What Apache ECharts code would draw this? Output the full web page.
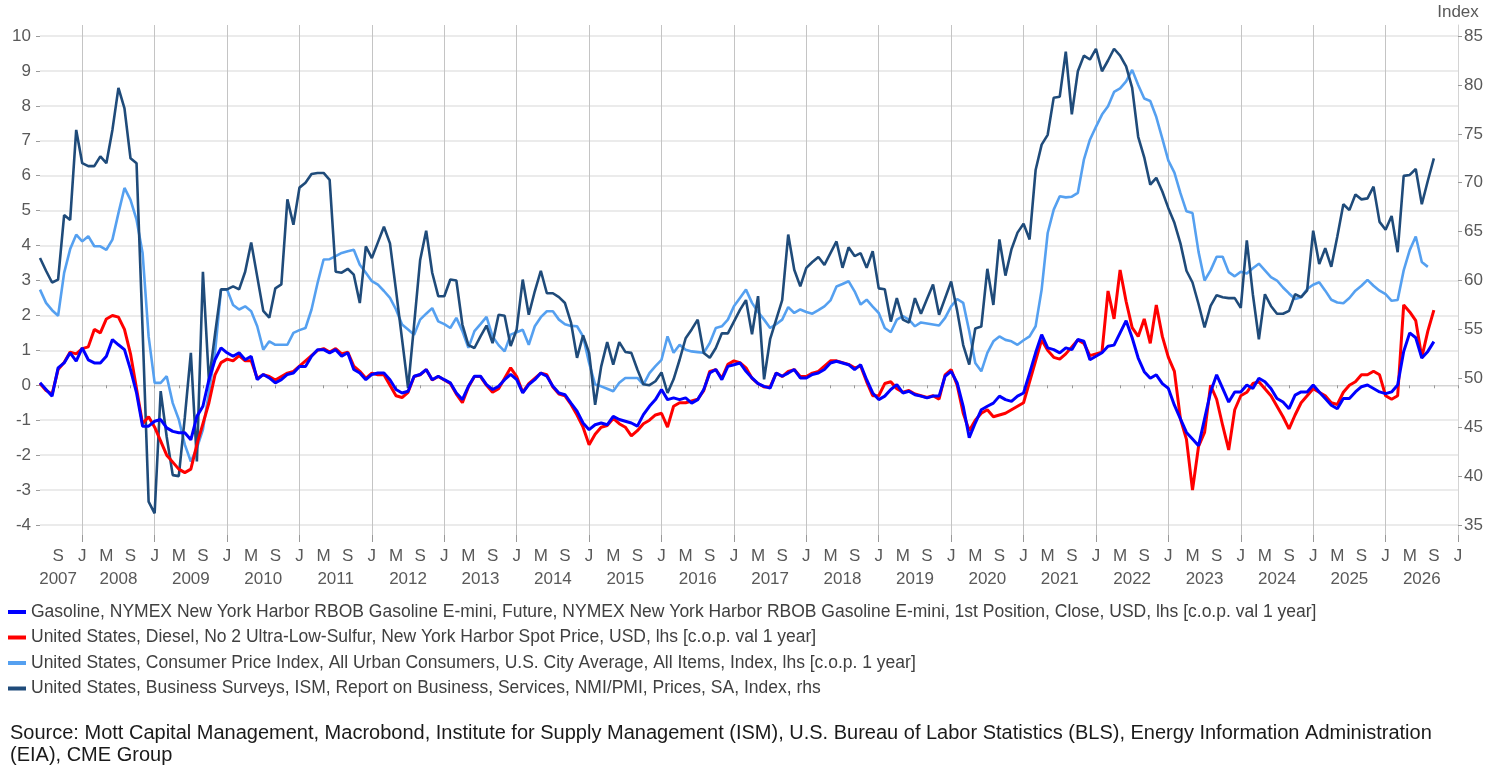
<!DOCTYPE html>
<html>
<head>
<meta charset="utf-8">
<script src="https://cdn.jsdelivr.net/npm/echarts@6/dist/echarts.min.js"></script>
<style>
  html, body { margin: 0; padding: 0; background: #fff; }
  #main { width: 1499px; height: 770px; }
</style>
</head>
<body>
<div id="main"></div>
<script>
// monthly categories, Jun 2007 .. Jan 2027
var firstMonth = [2007, 6];
var lastMonth = [2027, 1];
var months = [];
for (var y = firstMonth[0], m = firstMonth[1]; y < lastMonth[0] || (y == lastMonth[0] && m <= lastMonth[1]); ) {
    months.push(y + '-' + (m < 10 ? '0' + m : m));
    m++;
    if (m > 12) { m = 1; y++; }
}

var monthLetters = {1: 'J', 5: 'M', 9: 'S'};
var leftTicks = [-4, -3, -2, -1, 0, 1, 2, 3, 4, 5, 6, 7, 8, 9, 10];
var rightTicks = [35, 40, 45, 50, 55, 60, 65, 70, 75, 80, 85];

var nameGasoline = 'Gasoline, NYMEX New York Harbor RBOB Gasoline E-mini, Future, NYMEX New York Harbor RBOB Gasoline E-mini, 1st Position, Close, USD, lhs [c.o.p. val 1 year]';
var nameDiesel = 'United States, Diesel, No 2 Ultra-Low-Sulfur, New York Harbor Spot Price, USD, lhs [c.o.p. val 1 year]';
var nameCpi = 'United States, Consumer Price Index, All Urban Consumers, U.S. City Average, All Items, Index, lhs [c.o.p. 1 year]';
var nameIsm = 'United States, Business Surveys, ISM, Report on Business, Services, NMI/PMI, Prices, SA, Index, rhs';

// values from Jun 2007, one per month
var gasoline = [
    0.07, -0.12, -0.31, 0.50, 0.64, 0.93, 0.69, 1.07, 0.73, 0.64,
    0.64, 0.83, 1.31, 1.16, 1.02, 0.45, -0.22, -1.17, -1.17, -1.03,
    -0.98, -1.22, -1.32, -1.36, -1.36, -1.56, -0.89, -0.60, 0.16, 0.73,
    1.07, 0.93, 0.83, 0.93, 0.73, 0.83, 0.16, 0.31, 0.21, 0.07,
    0.16, 0.31, 0.35, 0.54, 0.54, 0.83, 1.02, 1.02, 0.93, 1.02,
    0.83, 0.93, 0.45, 0.35, 0.16, 0.31, 0.35, 0.35, 0.16, -0.12,
    -0.22, -0.17, 0.26, 0.31, 0.45, 0.16, 0.26, 0.16, 0.07, -0.22,
    -0.41, -0.03, 0.26, 0.26, 0.02, -0.12, -0.03, 0.16, 0.31, 0.16,
    -0.22, 0.02, 0.16, 0.35, 0.26, -0.03, -0.22, -0.27, -0.51, -0.74,
    -1.08, -1.27, -1.13, -1.08, -1.13, -0.89, -0.98, -1.03, -1.08, -1.17,
    -0.84, -0.60, -0.41, -0.12, -0.41, -0.36, -0.41, -0.36, -0.51, -0.41,
    -0.12, 0.35, 0.45, 0.16, 0.54, 0.59, 0.64, 0.40, 0.21, 0.05,
    -0.03, -0.08, 0.35, 0.26, 0.35, 0.45, 0.21, 0.21, 0.31, 0.35,
    0.45, 0.64, 0.69, 0.64, 0.59, 0.45, 0.59, 0.16, -0.22, -0.41,
    -0.31, -0.12, 0.02, -0.22, -0.17, -0.27, -0.31, -0.36, -0.31, -0.31,
    0.26, 0.40, 0.07, -0.60, -1.50, -1.08, -0.70, -0.60, -0.51, -0.31,
    -0.41, -0.46, -0.31, -0.22, 0.35, 0.93, 1.45, 1.07, 1.02, 0.93,
    1.07, 1.02, 1.31, 1.26, 0.73, 0.83, 0.93, 1.12, 1.15, 1.50,
    1.85, 1.36, 0.78, 0.39, 0.20, 0.30, 0.05, -0.09, -0.57, -0.96,
    -1.35, -1.54, -1.73, -0.96, -0.19, 0.30, -0.09, -0.48, -0.19, -0.19,
    0.01, -0.09, 0.20, 0.10, -0.09, -0.38, -0.48, -0.67, -0.28, -0.19,
    -0.19, 0.01, -0.19, -0.38, -0.57, -0.67, -0.38, -0.38, -0.19, -0.04,
    0.01, -0.09, -0.19, -0.24, -0.19, 0.01, 0.97, 1.50, 1.36, 0.78,
    0.97, 1.25
];

var diesel = [
    0.05, -0.15, -0.25, 0.45, 0.65, 0.95, 0.90, 1.05, 1.10, 1.60,
    1.50, 1.90, 2.00, 1.95, 1.60, 0.90, -0.10, -1.10, -0.90, -1.20,
    -1.60, -2.00, -2.20, -2.40, -2.50, -2.40, -1.70, -1.10, -0.50, 0.30,
    0.65, 0.75, 0.70, 0.85, 0.70, 0.70, 0.20, 0.30, 0.25, 0.15,
    0.25, 0.35, 0.40, 0.55, 0.70, 0.85, 1.00, 1.05, 0.95, 1.05,
    0.90, 0.95, 0.55, 0.40, 0.20, 0.35, 0.30, 0.30, 0.00, -0.30,
    -0.35, -0.20, 0.25, 0.30, 0.45, 0.15, 0.25, 0.15, 0.05, -0.25,
    -0.50, -0.05, 0.25, 0.25, 0.00, -0.20, -0.10, 0.20, 0.50, 0.25,
    -0.20, 0.05, 0.20, 0.35, 0.30, -0.05, -0.25, -0.30, -0.55, -0.85,
    -1.20, -1.70, -1.40, -1.20, -1.15, -0.95, -1.10, -1.20, -1.45, -1.30,
    -1.10, -1.00, -0.85, -0.80, -1.20, -0.60, -0.50, -0.50, -0.45, -0.40,
    -0.15, 0.40, 0.45, 0.20, 0.60, 0.70, 0.65, 0.50, 0.20, 0.05,
    -0.05, -0.05, 0.35, 0.25, 0.40, 0.45, 0.25, 0.25, 0.35, 0.40,
    0.55, 0.70, 0.70, 0.65, 0.60, 0.50, 0.55, 0.10, -0.30, -0.30,
    0.05, 0.10, -0.10, -0.20, -0.15, -0.25, -0.30, -0.35, -0.30, -0.40,
    0.30, 0.45, 0.00, -0.80, -1.30, -1.00, -0.80, -0.70, -0.90, -0.85,
    -0.80, -0.70, -0.60, -0.50, 0.10, 0.70, 1.30, 1.00, 0.80, 0.75,
    0.90, 1.10, 1.30, 1.20, 0.85, 0.90, 0.95, 2.70, 1.90, 3.30,
    2.40, 1.65, 1.40, 1.90, 1.20, 2.30, 1.40, 0.80, 0.40, -0.96,
    -1.55, -3.00, -1.75, -1.35, 0.00, -0.40, -1.15, -1.85, -0.70, -0.30,
    -0.20, 0.05, 0.10, -0.10, -0.30, -0.60, -0.90, -1.25, -0.85, -0.50,
    -0.30, -0.10, -0.20, -0.30, -0.50, -0.55, -0.20, 0.00, 0.10, 0.30,
    0.30, 0.40, 0.30, -0.30, -0.40, -0.30, 2.30, 2.10, 1.85, 0.80,
    1.55, 2.15
];

var cpi = [
    2.74, 2.36, 2.15, 1.99, 3.22, 3.90, 4.31, 4.12, 4.27, 3.98,
    3.98, 3.88, 4.17, 4.93, 5.65, 5.31, 4.74, 3.79, 1.40, 0.07,
    0.07, 0.26, -0.51, -0.98, -1.70, -2.18, -1.80, -1.27, -0.20, 0.93,
    2.74, 2.74, 2.30, 2.17, 2.26, 2.12, 1.69, 1.02, 1.26, 1.16,
    1.16, 1.16, 1.50, 1.58, 1.64, 2.17, 2.93, 3.60, 3.61, 3.70,
    3.79, 3.84, 3.88, 3.45, 3.22, 2.98, 2.88, 2.70, 2.50, 2.17,
    1.74, 1.60, 1.45, 1.88, 2.05, 2.21, 1.83, 1.75, 1.64, 1.93,
    1.55, 1.07, 1.55, 1.75, 1.96, 1.40, 1.15, 0.97, 1.45, 1.52,
    1.59, 1.16, 1.69, 1.95, 2.12, 2.12, 1.88, 1.75, 1.70, 1.69,
    1.40, 0.64, 0.02, -0.03, -0.10, -0.17, 0.07, 0.21, 0.21, 0.21,
    0.02, 0.35, 0.55, 0.73, 1.40, 0.93, 1.16, 1.02, 0.97, 0.95,
    0.93, 1.21, 1.64, 1.69, 1.88, 2.26, 2.50, 2.74, 2.36, 2.10,
    1.88, 1.64, 1.75, 1.88, 2.24, 2.07, 2.17, 2.10, 2.05, 2.15,
    2.26, 2.43, 2.83, 2.90, 2.98, 2.69, 2.31, 2.45, 2.25, 2.07,
    1.64, 1.52, 1.88, 1.98, 1.88, 1.69, 1.80, 1.77, 1.74, 1.71,
    1.93, 2.26, 2.47, 2.36, 1.55, 0.64, 0.40, 0.93, 1.26, 1.40,
    1.30, 1.26, 1.16, 1.29, 1.40, 1.69, 2.74, 4.36, 5.03, 5.41,
    5.38, 5.40, 5.51, 6.46, 7.03, 7.40, 7.75, 7.99, 8.40, 8.50,
    8.70, 9.03, 8.60, 8.21, 8.14, 7.68, 7.06, 6.43, 6.09, 5.50,
    4.98, 4.93, 3.82, 3.00, 3.29, 3.68, 3.68, 3.24, 3.12, 3.25,
    3.20, 3.35, 3.48, 3.29, 3.10, 3.00, 2.80, 2.63, 2.47, 2.52,
    2.76, 2.88, 2.95, 2.71, 2.45, 2.37, 2.35, 2.50, 2.71, 2.85,
    3.02, 2.85, 2.71, 2.61, 2.42, 2.44, 3.29, 3.87, 4.26, 3.53,
    3.39
];

var ismPrices = [
    62.3, 61.0, 59.8, 60.1, 66.7, 66.2, 75.4, 72.0, 71.7, 71.7,
    72.7, 72.0, 75.4, 79.7, 77.6, 72.5, 72.0, 55.0, 37.4, 36.2,
    48.7, 44.0, 40.1, 40.0, 46.0, 52.6, 41.5, 60.9, 49.7, 54.5,
    59.1, 59.1, 59.4, 59.1, 60.9, 63.9, 60.4, 56.9, 56.2, 59.2,
    59.6, 68.3, 65.7, 69.5, 70.0, 70.9, 71.0, 71.0, 70.3, 60.9,
    60.8, 61.2, 60.6, 57.7, 63.5, 62.3, 63.9, 65.5, 63.8, 59.0,
    54.0, 49.0, 55.5, 62.1, 65.1, 60.8, 58.4, 58.4, 60.1, 60.0,
    55.5, 53.4, 53.1, 54.3, 55.4, 53.6, 56.5, 56.4, 53.3, 55.0,
    60.1, 56.5, 58.9, 61.0, 58.7, 58.7, 58.3, 57.7, 55.7, 52.1,
    54.4, 52.6, 47.3, 51.2, 53.7, 51.4, 53.7, 52.7, 52.6, 50.9,
    49.4, 49.3, 49.7, 50.6, 48.5, 49.9, 51.9, 54.1, 55.0, 56.0,
    52.6, 52.1, 53.1, 54.6, 54.6, 55.8, 57.0, 58.0, 54.5, 58.4,
    49.9, 54.0, 56.0, 58.0, 64.7, 61.1, 59.4, 61.3, 61.9, 62.4,
    61.6, 62.8, 64.0, 61.3, 63.4, 62.5, 62.8, 61.3, 63.0, 59.2,
    59.1, 55.8, 58.2, 56.0, 55.7, 58.2, 56.6, 58.1, 59.6, 56.5,
    58.2, 59.9, 56.9, 53.4, 51.4, 55.1, 55.3, 61.2, 57.5, 64.2,
    60.5, 63.2, 64.9, 65.8, 64.2, 71.3, 73.9, 74.9, 78.7, 78.8,
    83.4, 77.0, 81.4, 83.0, 82.6, 83.7, 81.4, 82.5, 83.7, 83.0,
    81.9, 79.7, 74.7, 72.6, 69.8, 70.5, 69.1, 67.4, 65.9, 63.8,
    61.0, 59.8, 57.6, 55.2, 57.4, 58.5, 58.3, 58.2, 58.2, 57.2,
    64.1, 58.6, 54.0, 58.6, 57.4, 56.6, 56.6, 56.9, 58.6, 58.3,
    59.0, 65.1, 61.7, 63.3, 61.4, 64.5, 67.8, 67.2, 68.8, 68.3,
    68.4, 69.6, 66.0, 65.2, 66.6, 62.9, 70.7, 70.8, 71.4, 67.8,
    70.2, 72.5
];

var sourceText = 'Source: Mott Capital Management, Macrobond, Institute for Supply Management (ISM), U.S. Bureau of Labor Statistics (BLS), Energy Information Administration\n(EIA), CME Group';

function monthOf(v) { return parseInt(v.slice(5), 10); }

var fontFam = '"Liberation Sans", Arial, sans-serif';
var labelColor = '#595959';

var myChart = echarts.init(document.getElementById('main'));

option = {
    animation: false,
    backgroundColor: '#fff',
    textStyle: { fontFamily: fontFam },
    grid: { left: 40, right: 41, top: 25, bottom: 235, containLabel: false },
    legend: {
        orient: 'vertical',
        left: 3,
        top: 598,
        icon: 'rect',
        itemWidth: 18,
        itemHeight: 4,
        itemGap: 7.5,
        textStyle: { fontSize: 17.5, color: '#404040', fontFamily: fontFam, lineHeight: 17.5 },
        data: [nameGasoline, nameDiesel, nameCpi, nameIsm]
    },
    xAxis: [
        {
            type: 'category',
            data: months,
            boundaryGap: false,
            axisLine: { lineStyle: { color: '#d4d4d4' } },
            axisTick: {
                interval: function (i, v) { return !!monthLetters[monthOf(v)]; },
                length: 3,
                lineStyle: { color: '#999' }
            },
            axisLabel: {
                interval: function (i, v) { return !!monthLetters[monthOf(v)]; },
                formatter: function (v) { return monthLetters[monthOf(v)]; },
                color: labelColor,
                fontSize: 17,
                margin: 13
            },
            splitLine: {
                show: true,
                interval: function (i, v) { return monthOf(v) == 1; },
                lineStyle: { color: '#c4c4c4', width: 1 }
            }
        },
        {
            type: 'category',
            data: months,
            boundaryGap: false,
            position: 'bottom',
            axisLine: { show: false },
            axisTick: {
                interval: function (i, v) { return monthOf(v) == 1; },
                length: 7,
                lineStyle: { color: '#999' }
            },
            axisLabel: {
                interval: function (i, v) { return monthOf(v) == 7 || v == '2007-09'; },
                formatter: function (v) { return v.slice(0, 4); },
                color: labelColor,
                fontSize: 17,
                margin: 36
            },
            splitLine: { show: false }
        }
    ],
    yAxis: [
        {
            type: 'value',
            position: 'left',
            min: -4.286,
            max: 10.315,
            axisLine: { show: false },
            axisTick: { show: true, customValues: leftTicks, length: 4, lineStyle: { color: '#999' } },
            axisLabel: { customValues: leftTicks, color: labelColor, fontSize: 17, margin: 9 },
            splitLine: { show: true, lineStyle: { color: '#e4e4e4', width: 1.5 } }
        },
        {
            type: 'value',
            position: 'right',
            min: 33.98,
            max: 86.13,
            name: 'Index',
            nameLocation: 'end',
            nameGap: 4,
            nameTextStyle: { color: labelColor, fontSize: 17, align: 'center' },
            axisLine: { show: true, lineStyle: { color: '#d4d4d4' } },
            axisTick: { show: true, customValues: rightTicks, length: 4, lineStyle: { color: '#999' } },
            axisLabel: { customValues: rightTicks, color: labelColor, fontSize: 17, margin: 6 },
            splitLine: { show: false }
        }
    ],
    series: [
        {
            name: nameCpi, type: 'line', data: cpi, yAxisIndex: 0,
            symbol: 'none', lineStyle: { color: '#55a0f0', width: 2.6 }, itemStyle: { color: '#55a0f0' }
        },
        {
            name: nameIsm, type: 'line', data: ismPrices, yAxisIndex: 1,
            symbol: 'none', lineStyle: { color: '#1f4b7a', width: 2.6 }, itemStyle: { color: '#1f4b7a' }
        },
        {
            name: nameDiesel, type: 'line', data: diesel, yAxisIndex: 0,
            symbol: 'none', lineStyle: { color: '#ff0000', width: 3 }, itemStyle: { color: '#ff0000' }
        },
        {
            name: nameGasoline, type: 'line', data: gasoline, yAxisIndex: 0,
            symbol: 'none', lineStyle: { color: '#0000ff', width: 3 }, itemStyle: { color: '#0000ff' }
        }
    ],
    graphic: [
        {
            type: 'text',
            left: 10,
            top: 722,
            style: {
                text: sourceText,
                fill: '#1a1a1a',
                font: '20px ' + fontFam,
                lineHeight: 22
            }
        }
    ]
};

myChart.setOption(option, true);
</script>
</body>
</html>
